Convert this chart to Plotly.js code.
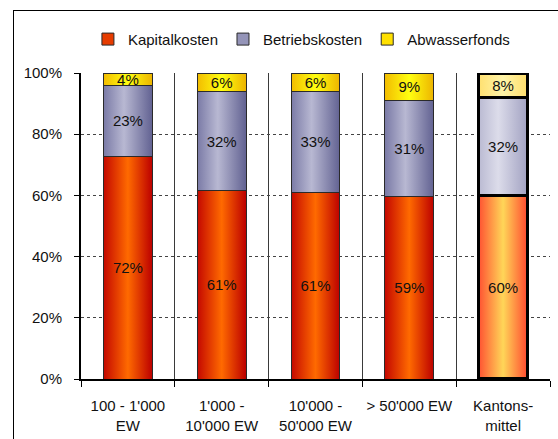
<!DOCTYPE html>
<html>
<head>
<meta charset="utf-8">
<script src="https://cdn.plot.ly/plotly-3.0.1.min.js"></script>
<style>
  html, body { margin: 0; padding: 0; background: #fff; overflow: hidden; }
  #chart { position: absolute; left: 13px; top: 10px; width: 548px; height: 432px;
           border-left: 1px solid #000; border-top: 1px solid #000; }
</style>
</head>
<body>
<div id="chart"></div>
<script>
// ---- data ----
const categories = ["100 - 1'000<br>EW", "1'000 -<br>10'000 EW", "10'000 -<br>50'000 EW", "> 50'000 EW", "Kantons-<br>mittel"];
const seriesNames = ["Kapitalkosten", "Betriebskosten", "Abwasserfonds"];
const kapitalkosten = [72, 61, 61, 59, 60];
const betriebskosten = [23, 32, 33, 31, 32];
const abwasserfonds = [4, 6, 6, 9, 8];

// ---- styles ----
const baseColors = ["#E63C00", "#9494B8", "#FFE000"];
const kantonColors = ["#FFA24A", "#C4C4DA", "#FFEE90"];
const gradStops = [
  [["0%", "#C40800"], ["50%", "#FF6A00"], ["100%", "#BC0000"]],
  [["0%", "#7A7AA6"], ["42%", "#B8B8D2"], ["100%", "#626292"]],
  [["0%", "#F2BC00"], ["50%", "#FFFF10"], ["100%", "#EDB400"]]
];
const kantonStops = [
  [["0%", "#FF5232"], ["50%", "#FFD658"], ["100%", "#FF4A30"]],
  [["0%", "#BABAD2"], ["40%", "#DCDCEA"], ["100%", "#A2A2C2"]],
  [["0%", "#FFE070"], ["50%", "#FFF4A8"], ["100%", "#FFDE6C"]]
];

const allValues = [kapitalkosten, betriebskosten, abwasserfonds];
const n = categories.length;
const traces = allValues.map((vals, s) => ({
  type: 'bar',
  name: seriesNames[s],
  x: categories,
  y: vals,
  text: vals.map(v => v + '%'),
  textposition: 'inside',
  insidetextanchor: 'middle',
  textangle: 0,
  constraintext: 'none',
  textfont: { family: 'Liberation Sans, Arial, sans-serif', size: 15, color: '#111' },
  marker: {
    color: vals.map((v, i) => i === n - 1 ? kantonColors[s] : baseColors[s]),
    line: {
      color: vals.map((v, i) => i === n - 1 ? '#000' : '#2a2a2a'),
      width: vals.map((v, i) => i === n - 1 ? 3.5 : 1)
    }
  },
  hoverinfo: 'name+y'
}));

const layout = {
  width: 548, height: 432,
  margin: { l: 67, r: 12, t: 60, b: 64 },
  paper_bgcolor: '#fff', plot_bgcolor: '#fff',
  barmode: 'stack', barnorm: 'percent', bargap: 0.48,
  font: { family: 'Liberation Sans, Arial, sans-serif', size: 15, color: '#111' },
  showlegend: true,
  legend: { orientation: 'h', x: 0.47, xanchor: 'center', y: 1.11, yanchor: 'middle',
            font: { size: 15 }, traceorder: 'normal', itemclick: false },
  xaxis: {
    type: 'category', tickson: 'boundaries', showgrid: true, gridcolor: '#3a3a3a', gridwidth: 1,
    showline: true, linecolor: '#000', linewidth: 2, ticks: 'outside', ticklen: 6, tickcolor: '#000',
    tickangle: 0, ticklabelstandoff: 12, zeroline: false, fixedrange: true
  },
  yaxis: {
    range: [0, 100], dtick: 20, ticksuffix: '%', showgrid: true, gridcolor: '#444', griddash: 'dot', gridwidth: 1,
    showline: true, linecolor: '#000', linewidth: 2, ticks: 'outside', ticklen: 5, tickcolor: '#000',
    ticklabelstandoff: 9, zeroline: false, fixedrange: true
  },
  yaxis2: {
    overlaying: 'y', side: 'right', range: [0, 100], showline: true, linecolor: '#8a8a8a', linewidth: 1.5,
    showticklabels: false, ticks: '', showgrid: false, zeroline: false, fixedrange: true
  }
};

Plotly.newPlot('chart', traces, layout, { displayModeBar: false, staticPlot: true }).then(gd => {
  // add horizontal gradients to mimic the original bar shading
  const svg = gd.querySelector('svg.main-svg');
  let defs = svg.querySelector('defs');
  const NS = 'http://www.w3.org/2000/svg';
  function makeGrad(id, stops) {
    const g = document.createElementNS(NS, 'linearGradient');
    g.setAttribute('id', id);
    g.setAttribute('x1', '0'); g.setAttribute('y1', '0');
    g.setAttribute('x2', '1'); g.setAttribute('y2', '0');
    stops.forEach(([off, col]) => {
      const st = document.createElementNS(NS, 'stop');
      st.setAttribute('offset', off);
      st.setAttribute('stop-color', col);
      g.appendChild(st);
    });
    defs.appendChild(g);
  }
  for (let s = 0; s < 3; s++) {
    makeGrad('gbase' + s, gradStops[s]);
    makeGrad('gkant' + s, kantonStops[s]);
  }
  const traceGroups = gd.querySelectorAll('.barlayer .trace');
  traceGroups.forEach((tg, s) => {
    tg.querySelectorAll('.point path').forEach((p, i) => {
      p.style.fill = 'url(#' + (i === n - 1 ? 'gkant' : 'gbase') + s + ')';
    });
  });
});
</script>
</body>
</html>
